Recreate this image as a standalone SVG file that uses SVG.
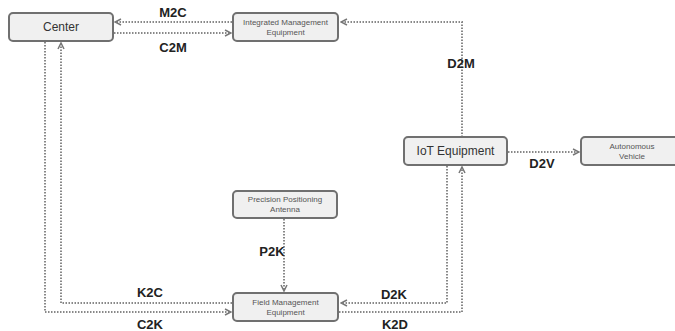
<svg xmlns="http://www.w3.org/2000/svg" width="675" height="331" viewBox="0 0 675 331">
<style>
.box{fill:#f0f0f0;stroke:#707070;stroke-width:2}
.big{font-family:"Liberation Sans",Arial,sans-serif;font-size:12px;fill:#333;text-anchor:middle}
.small{font-family:"Liberation Sans",Arial,sans-serif;font-size:8px;fill:#555;text-anchor:middle}
.lbl{font-family:"Liberation Sans",Arial,sans-serif;font-size:13px;font-weight:bold;fill:#222;text-anchor:middle}
.con{fill:none;stroke:#888;stroke-width:2;stroke-dasharray:1.5 1.5}
</style>
<defs>
<marker id="arr" viewBox="0 0 8 8" refX="7" refY="4" markerWidth="8" markerHeight="8" markerUnits="userSpaceOnUse" orient="auto">
<path d="M1,1 L7,4 L1,7" fill="none" stroke="#777" stroke-width="1.5"/>
</marker>
</defs>
<rect width="675" height="331" fill="#fff"/>
<g id="connectors">
<path class="con" d="M232,22 H115" marker-end="url(#arr)"/>
<path class="con" d="M114,33 H231" marker-end="url(#arr)"/>
<path class="con" d="M462,137 V22 H341" marker-end="url(#arr)"/>
<path class="con" d="M508,152 H579" marker-end="url(#arr)"/>
<path class="con" d="M447,166 V303 H341" marker-end="url(#arr)"/>
<path class="con" d="M339,312 H462 V167" marker-end="url(#arr)"/>
<path class="con" d="M284,219 V291" marker-end="url(#arr)"/>
<path class="con" d="M232,303 H61 V43" marker-end="url(#arr)"/>
<path class="con" d="M45,42 V312 H231" marker-end="url(#arr)"/>
<text class="lbl" x="173" y="17">M2C</text>
<text class="lbl" x="173" y="52">C2M</text>
<text class="lbl" x="461" y="68">D2M</text>
<text class="lbl" x="542" y="168">D2V</text>
<text class="lbl" x="272" y="256">P2K</text>
<text class="lbl" x="150" y="297">K2C</text>
<text class="lbl" x="150" y="329">C2K</text>
<text class="lbl" x="394" y="299">D2K</text>
<text class="lbl" x="395" y="329">K2D</text>
</g>
<g id="center"><rect class="box" x="9" y="13" width="104" height="28" rx="4"/><text class="big" x="61" y="31">Center</text></g>
<g id="ime"><rect class="box" x="233" y="13" width="105" height="28" rx="4"/><text class="small" x="285.5" y="25">Integrated Management</text><text class="small" x="285.5" y="35">Equipment</text></g>
<g id="iot"><rect class="box" x="404" y="137" width="103" height="28" rx="4"/><text class="big" x="455.5" y="155">IoT Equipment</text></g>
<g id="av"><rect class="box" x="581" y="137" width="103" height="28" rx="4"/><text class="small" x="632" y="149">Autonomous</text><text class="small" x="632" y="159">Vehicle</text></g>
<g id="ppa"><rect class="box" x="233" y="191" width="104" height="27" rx="4"/><text class="small" x="285" y="202">Precision Positioning</text><text class="small" x="285" y="212">Antenna</text></g>
<g id="fme"><rect class="box" x="233" y="293" width="105" height="28" rx="4"/><text class="small" x="285.5" y="305">Field Management</text><text class="small" x="285.5" y="315">Equipment</text></g>
</svg>
